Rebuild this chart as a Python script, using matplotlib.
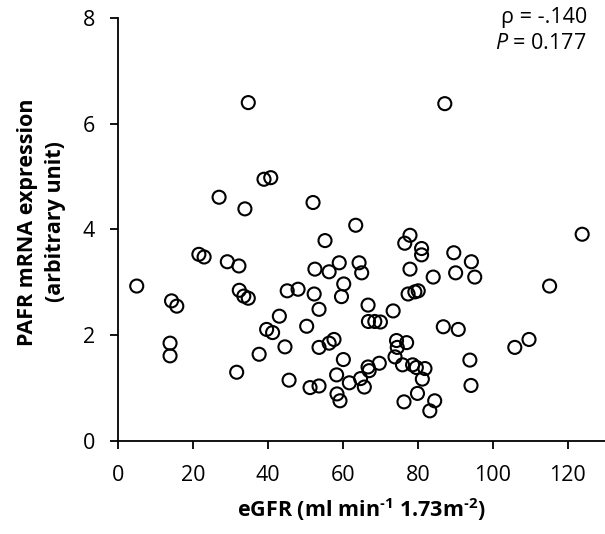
import matplotlib
matplotlib.use('Agg')
import matplotlib.pyplot as plt

# eGFR vs PAFR mRNA expression
egfr = [34.7, 87.2, 38.9, 40.7, 26.9, 33.8, 52.0, 63.4, 123.9, 77.9,
        55.2, 76.5, 81.0, 81.0, 89.6, 21.5, 22.9, 29.1, 32.2, 59.0,
        64.3, 94.3, 52.5, 77.9, 56.3, 65.0, 90.1, 84.1, 95.2, 60.2,
        4.9, 115.2, 48.0, 45.1, 32.3, 80.1, 79.2, 77.4, 52.3, 33.5,
        34.7, 59.6, 14.2, 15.6, 66.7, 53.6, 73.4, 43.0, 66.8, 68.5,
        70.0, 50.3, 86.8, 39.6, 41.2, 90.8, 109.7, 57.6, 56.3, 74.3,
        77.0, 13.8, 44.5, 53.6, 74.5, 105.9, 37.6, 13.8, 73.9, 60.1,
        93.9, 69.7, 75.9, 78.6, 66.7, 79.6, 81.9, 67.0, 31.6, 58.3,
        64.7, 81.2, 45.6, 61.7, 94.2, 53.6, 51.2, 65.7, 58.4, 79.9,
        59.2, 76.3, 84.5, 83.2]
pafr = [6.40, 6.38, 4.95, 4.98, 4.61, 4.39, 4.51, 4.08, 3.91, 3.89,
        3.79, 3.74, 3.64, 3.52, 3.56, 3.53, 3.48, 3.39, 3.31, 3.37,
        3.37, 3.39, 3.25, 3.25, 3.20, 3.18, 3.18, 3.10, 3.10, 2.97,
        2.93, 2.93, 2.87, 2.84, 2.85, 2.84, 2.82, 2.78, 2.78, 2.74,
        2.70, 2.73, 2.65, 2.55, 2.57, 2.49, 2.46, 2.36, 2.26, 2.26,
        2.25, 2.17, 2.16, 2.11, 2.05, 2.11, 1.92, 1.92, 1.85, 1.90,
        1.86, 1.85, 1.78, 1.77, 1.77, 1.77, 1.64, 1.61, 1.59, 1.54,
        1.53, 1.47, 1.44, 1.44, 1.40, 1.39, 1.37, 1.33, 1.30, 1.25,
        1.18, 1.17, 1.15, 1.10, 1.05, 1.04, 1.01, 1.02, 0.89, 0.90,
        0.76, 0.74, 0.76, 0.57]

x_ticks = [0, 20, 40, 60, 80, 100, 120]
y_ticks = [0, 2, 4, 6, 8]

FONT = 'Open Sans'
FS = 15.5
plt.rcParams['font.family'] = FONT
plt.rcParams['mathtext.fontset'] = 'custom'
plt.rcParams['mathtext.rm'] = FONT
plt.rcParams['mathtext.it'] = FONT + ':italic'
plt.rcParams['mathtext.bf'] = FONT + ':bold'

fig = plt.figure(figsize=(6.05, 5.34), dpi=100)
ax = fig.add_axes([0.1957, 0.1742, 0.8043, 0.7921])

ax.scatter(egfr, pafr, s=88, facecolors='none', edgecolors='black',
           linewidths=1.5, clip_on=False, zorder=3)

ax.set_xlim(0, 130)
ax.set_ylim(0, 8)
ax.set_xticks(x_ticks)
ax.set_yticks(y_ticks)
ax.tick_params(direction='out', length=6, width=1.3, labelsize=FS,
               colors='black', pad=11)

for side in ['top', 'right']:
    ax.spines[side].set_visible(False)
for side in ['left', 'bottom']:
    ax.spines[side].set_linewidth(1.3)

# short hyphen (U+2010) in the superscripts, as in the original
ax.set_xlabel('eGFR (ml min$^{\\mathbf{\u20101}}$ 1.73m$^{\\mathbf{\u20102}}$)',
              fontsize=FS, fontweight='bold')
ax.xaxis.label.set_verticalalignment('center')
ax.xaxis.set_label_coords(0.5, -0.163)

# y label placed by its centre
fig.text(41.5 / 605, 1 - 222 / 534, 'PAFR mRNA expression\n(arbitrary unit)',
         rotation=90, ha='center', va='center', multialignment='center',
         fontsize=FS, fontweight='bold', linespacing=1.4)

fig.text(0.970, 0.968, 'ρ = -.140', ha='right', va='center', fontsize=FS)
fig.text(0.970, 0.919, r'$P$ = 0.177', ha='right', va='center', fontsize=FS)

fig.savefig('out.png', dpi=100)
